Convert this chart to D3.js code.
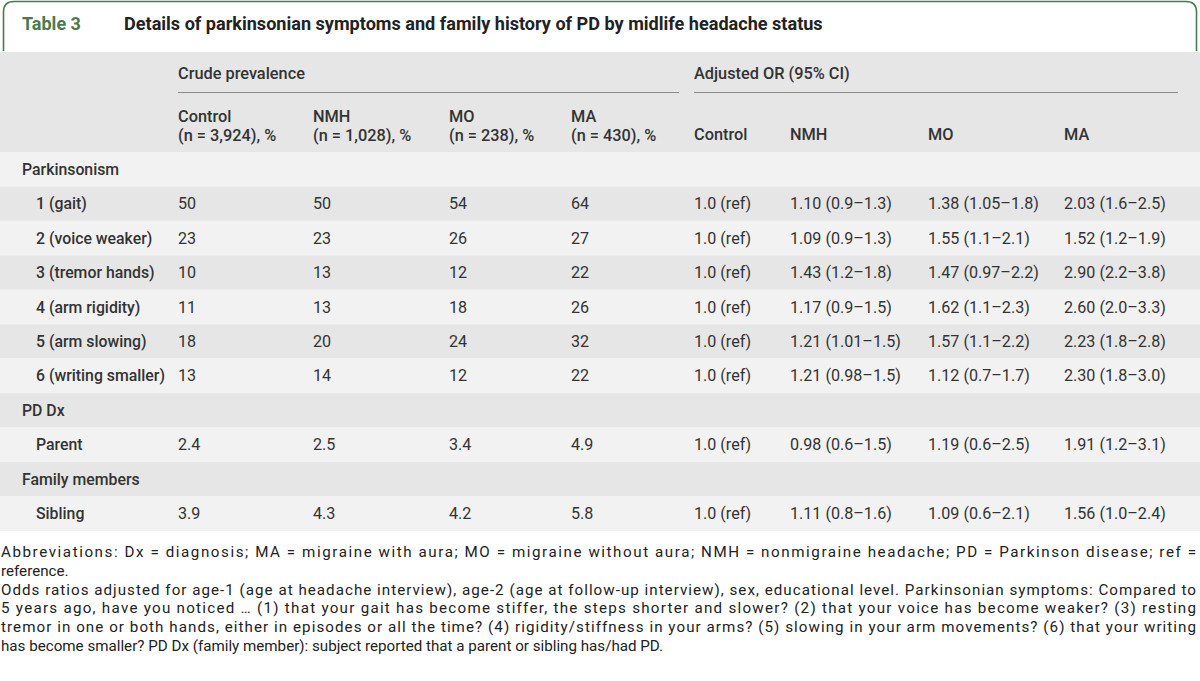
<!DOCTYPE html>
<html>
<head>
<meta charset="utf-8">
<script src="https://cdn.jsdelivr.net/npm/d3@7"></script>
<style>
  html, body { margin: 0; padding: 0; background: #fff; }
  svg { display: block; }
  text { font-family: "Roboto", "Liberation Sans", sans-serif; }
</style>
</head>
<body>
<svg id="chart" width="1200" height="681"></svg>
<script>
// ---------- DATA ----------
const tableLabel = "Table 3";
const tableTitle = "Details of parkinsonian symptoms and family history of PD by midlife headache status";
const groupHeaders = ["Crude prevalence", "Adjusted OR (95% CI)"];
const crudeColumns = [["Control", "(n = 3,924), %"], ["NMH", "(n = 1,028), %"], ["MO", "(n = 238), %"], ["MA", "(n = 430), %"]];
const orColumns = ["Control", "NMH", "MO", "MA"];

// row kind: "g" = group heading, "r" = data row
const rowLabels = ["Parkinsonism", "1 (gait)", "2 (voice weaker)", "3 (tremor hands)", "4 (arm rigidity)", "5 (arm slowing)", "6 (writing smaller)", "PD Dx", "Parent", "Family members", "Sibling"];
const rowKinds  = ["g", "r", "r", "r", "r", "r", "r", "g", "r", "g", "r"];

const crudeControl = ["", "50", "23", "10", "11", "18", "13", "", "2.4", "", "3.9"];
const crudeNMH     = ["", "50", "23", "13", "13", "20", "14", "", "2.5", "", "4.3"];
const crudeMO      = ["", "54", "26", "12", "18", "24", "12", "", "3.4", "", "4.2"];
const crudeMA      = ["", "64", "27", "22", "26", "32", "22", "", "4.9", "", "5.8"];

const orControl = ["", "1.0 (ref)", "1.0 (ref)", "1.0 (ref)", "1.0 (ref)", "1.0 (ref)", "1.0 (ref)", "", "1.0 (ref)", "", "1.0 (ref)"];
const orNMH     = ["", "1.10 (0.9–1.3)", "1.09 (0.9–1.3)", "1.43 (1.2–1.8)", "1.17 (0.9–1.5)", "1.21 (1.01–1.5)", "1.21 (0.98–1.5)", "", "0.98 (0.6–1.5)", "", "1.11 (0.8–1.6)"];
const orMO      = ["", "1.38 (1.05–1.8)", "1.55 (1.1–2.1)", "1.47 (0.97–2.2)", "1.62 (1.1–2.3)", "1.57 (1.1–2.2)", "1.12 (0.7–1.7)", "", "1.19 (0.6–2.5)", "", "1.09 (0.6–2.1)"];
const orMA      = ["", "2.03 (1.6–2.5)", "1.52 (1.2–1.9)", "2.90 (2.2–3.8)", "2.60 (2.0–3.3)", "2.23 (1.8–2.8)", "2.30 (1.8–3.0)", "", "1.91 (1.2–3.1)", "", "1.56 (1.0–2.4)"];

const footnoteLines = [
  ["Abbreviations: Dx = diagnosis; MA = migraine with aura; MO = migraine without aura; NMH = nonmigraine headache; PD = Parkinson disease; ref =", true],
  ["reference.", false],
  ["Odds ratios adjusted for age-1 (age at headache interview), age-2 (age at follow-up interview), sex, educational level. Parkinsonian symptoms: Compared to", true],
  ["5 years ago, have you noticed … (1) that your gait has become stiffer, the steps shorter and slower? (2) that your voice has become weaker? (3) resting", true],
  ["tremor in one or both hands, either in episodes or all the time? (4) rigidity/stiffness in your arms? (5) slowing in your arm movements? (6) that your writing", true],
  ["has become smaller? PD Dx (family member): subject reported that a parent or sibling has/had PD.", false]
];

// ---------- LAYOUT ----------
const W = 1200;
const svg = d3.select("#chart");
const green = "#4a7a52";
const textCol = "#333333";

// calibrate font sizes so sample strings match the widths seen in the reference
function fitSize(str, weight, target) {
  const t = svg.append("text").attr("font-size", 20).attr("font-weight", weight).text(str);
  const w = t.node().getComputedTextLength();
  t.remove();
  return 20 * target / w;
}
const fsTitle  = fitSize(tableTitle, 700, 699);
const fsLabel  = fitSize("Table 3", 700, 59);
const fsHead   = fitSize("Crude prevalence", 500, 127);
const fsRowLab = fitSize("6 (writing smaller)", 500, 129);
const fsVal    = fitSize("1.38 (1.05–1.8)", 400, 111);
const fsFoot   = fitSize(footnoteLines[5][0], 400, 663);

const colKeys = ["label", "c0", "c1", "c2", "c3", "o0", "o1", "o2", "o3"];
const x = d3.scaleOrdinal().domain(colKeys).range([22, 178, 313, 449, 571, 694, 790, 928, 1064]);

const y = d3.scaleBand().domain(d3.range(rowLabels.length)).range([152, 531]).padding(0);

const rows = rowLabels.map((lab, i) => ({
  i, label: lab, kind: rowKinds[i],
  vals: [crudeControl[i], crudeNMH[i], crudeMO[i], crudeMA[i], orControl[i], orNMH[i], orMO[i], orMA[i]]
}));

// Title box
svg.append("path")
  .attr("d", "M3.5,51 V12 Q3.5,1.5 14,1.5 H1186 Q1196.5,1.5 1196.5,12 V51")
  .attr("fill", "#fff").attr("stroke", green).attr("stroke-width", 1.6);
svg.append("text").attr("x", 22).attr("y", 30).attr("fill", green)
  .attr("font-size", fsLabel).attr("font-weight", 700).text(tableLabel);
svg.append("text").attr("x", 124).attr("y", 30).attr("fill", "#222")
  .attr("font-size", fsTitle).attr("font-weight", 700).text(tableTitle);

// header band
svg.append("rect").attr("x", 0).attr("y", 52).attr("width", W).attr("height", 100).attr("fill", "#e6e6e6");

// group headers + rules
const ghX = [x("c0"), x("o0")];
const ruleEnds = [[178, 679], [694, 1178]];
groupHeaders.forEach((g, k) => {
  svg.append("text").attr("x", ghX[k]).attr("y", 78.5).attr("fill", textCol)
    .attr("font-size", fsHead).attr("font-weight", 500).text(g);
  svg.append("line").attr("x1", ruleEnds[k][0]).attr("x2", ruleEnds[k][1])
    .attr("y1", 92.5).attr("y2", 92.5).attr("stroke", "#8a8a8a").attr("stroke-width", 1);
});

// column headers
crudeColumns.forEach((c, k) => {
  const t = svg.append("text").attr("fill", textCol)
    .attr("font-size", fsHead).attr("font-weight", 500);
  t.append("tspan").attr("x", x("c" + k)).attr("y", 121.5).text(c[0]);
  t.append("tspan").attr("x", x("c" + k)).attr("y", 141).text(c[1]);
});
orColumns.forEach((c, k) => {
  svg.append("text").attr("x", x("o" + k)).attr("y", 140).attr("fill", textCol)
    .attr("font-size", fsHead).attr("font-weight", 500).text(c);
});

// body rows
const rowG = svg.selectAll("g.row").data(rows).join("g").attr("class", "row")
  .attr("transform", d => `translate(0,${y(d.i)})`);
rowG.append("rect").attr("x", 0).attr("width", W).attr("height", y.bandwidth())
  .attr("fill", d => d.i % 2 === 0 ? "#f2f2f2" : "#e6e6e6");
rowG.append("text")
  .attr("x", d => d.kind === "g" ? x("label") : x("label") + 14)
  .attr("y", y.bandwidth() / 2 + 5.5)
  .attr("fill", textCol).attr("font-size", fsRowLab).attr("font-weight", 500)
  .text(d => d.label);
rowG.each(function(d) {
  d3.select(this).selectAll("text.val").data(d.vals).join("text").attr("class", "val")
    .attr("x", (v, j) => x(colKeys[j + 1]))
    .attr("y", y.bandwidth() / 2 + 5.5)
    .attr("fill", textCol).attr("font-size", fsVal)
    .text(v => v);
});

// footnotes
const fy = d3.scaleLinear().domain([0, 1]).range([557, 575.8]);
footnoteLines.forEach((f, k) => {
  const t = svg.append("text").attr("x", 1).attr("y", fy(k)).attr("fill", "#222")
    .attr("font-size", fsFoot).text(f[0]);
  if (f[1]) t.attr("textLength", 1195).attr("lengthAdjust", "spacing");
});
</script>
</body>
</html>
